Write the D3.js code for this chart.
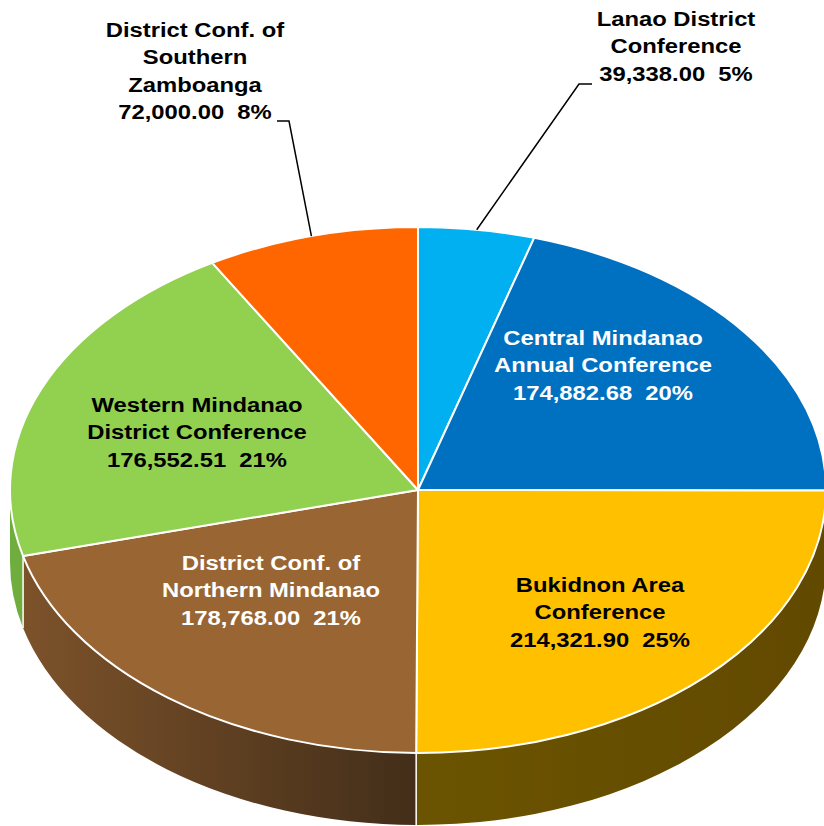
<!DOCTYPE html>
<html>
<head>
<meta charset="utf-8">
<script src="https://cdn.jsdelivr.net/npm/d3@7"></script>
<style>
  html, body { margin: 0; padding: 0; background: #fff; }
  svg { display: block; }
  text { font-family: "Liberation Sans", Arial, sans-serif; font-weight: bold; white-space: pre; }
</style>
</head>
<body>
<svg id="chart" width="824" height="826"></svg>
<script>
// ---- data ----
const categories = [
  "Lanao District Conference",
  "Central Mindanao Annual Conference",
  "Bukidnon Area Conference",
  "District Conf. of Northern Mindanao",
  "Western Mindanao District Conference",
  "District Conf. of Southern Zamboanga"
];
const values = [39338.00, 174882.68, 214321.90, 178768.00, 176552.51, 72000.00];
const labelLines = [
  ["Lanao District", "Conference"],
  ["Central Mindanao", "Annual Conference"],
  ["Bukidnon Area", "Conference"],
  ["District Conf. of", "Northern Mindanao"],
  ["Western Mindanao", "District Conference"],
  ["District Conf. of", "Southern", "Zamboanga"]
];

// ---- styles / layout ----
const topColors  = ["#00B0F0", "#0070C0", "#FFC000", "#996633", "#92D050", "#FF6600"];
const sideColors = [["#0098d0","#0098d0"], ["#005a9c","#005a9c"], ["#6b5400","#624900"],
                    ["#7c522a","#432e19"], ["#6fae3e","#6fae3e"], ["#cc5200","#cc5200"]];
const textColors = ["#000", "#fff", "#000", "#fff", "#000", "#000"];
// label block: centre x, first baseline y
const labelPos = [[676, 26], [603, 345], [600, 592], [271, 570], [197, 412], [195, 37]];
const outside  = [true, false, false, false, false, true];
const leaderElbow = [[579, 84, 592], null, null, null, null, [289, 121, 277]];

const cx = 418, cy = 490, rx = 408, ry = 263, depth = 72;
const lineH = 27.5, fontSize = 20, xStretch = 1.19;

const svg = d3.select("#chart");
const defs = svg.append("defs");

const pie = d3.pie().sort(null).value(d => d);
const arcs = pie(values);
const total = d3.sum(values);
const fmt = d3.format(",.2f");

const px = a => cx + rx * Math.sin(a);
const py = a => cy - ry * Math.cos(a);

function topPath(d) {
  const a0 = d.startAngle, a1 = d.endAngle;
  const large = (a1 - a0) > Math.PI ? 1 : 0;
  return `M${cx},${cy}L${px(a0)},${py(a0)}A${rx},${ry} 0 ${large} 1 ${px(a1)},${py(a1)}Z`;
}

function sidePath(a0, a1) {
  const large = (a1 - a0) > Math.PI ? 1 : 0;
  return `M${px(a0)},${py(a0)}A${rx},${ry} 0 ${large} 1 ${px(a1)},${py(a1)}` +
         `L${px(a1)},${py(a1) + depth}A${rx},${ry} 0 ${large} 0 ${px(a0)},${py(a0) + depth}Z`;
}

// ---- side walls (front half: PI/2 .. 3PI/2) ----
const gSide = svg.append("g");
arcs.forEach((d, i) => {
  const a0 = Math.max(d.startAngle, Math.PI / 2);
  const a1 = Math.min(d.endAngle, 3 * Math.PI / 2);
  if (a1 <= a0) return;
  const x0 = Math.min(px(a0), px(a1)), x1 = Math.max(px(a0), px(a1));
  const gid = "sg" + i;
  const lg = defs.append("linearGradient").attr("id", gid)
    .attr("gradientUnits", "userSpaceOnUse")
    .attr("x1", x0).attr("x2", x1).attr("y1", 0).attr("y2", 0);
  lg.append("stop").attr("offset", 0).attr("stop-color", sideColors[i][0]);
  lg.append("stop").attr("offset", 1).attr("stop-color", sideColors[i][1]);
  gSide.append("path").attr("d", sidePath(a0, a1)).attr("fill", `url(#${gid})`);
});
// side separators
arcs.forEach(d => {
  const a = d.startAngle;
  if (a > Math.PI / 2 && a < 3 * Math.PI / 2) {
    gSide.append("line")
      .attr("x1", px(a)).attr("y1", py(a))
      .attr("x2", px(a)).attr("y2", py(a) + depth)
      .attr("stroke", "#fff").attr("stroke-width", 1.5);
  }
});

// ---- top faces ----
svg.append("g").selectAll("path").data(arcs).join("path")
  .attr("d", topPath)
  .attr("fill", (d, i) => topColors[i])
  .attr("stroke", "#fff")
  .attr("stroke-width", 2)
  .attr("stroke-linejoin", "round");

// ---- leader lines ----
arcs.forEach((d, i) => {
  if (!outside[i]) return;
  const m = (d.startAngle + d.endAngle) / 2;
  const e = leaderElbow[i];
  svg.append("polyline")
    .attr("points", `${px(m)},${py(m)} ${e[0]},${e[1]} ${e[2]},${e[1]}`)
    .attr("fill", "none").attr("stroke", "#000").attr("stroke-width", 1.5);
});

// ---- labels ----
arcs.forEach((d, i) => {
  const pct = Math.round(d.data / total * 100);
  const lines = labelLines[i].concat([`${fmt(d.data)}  ${pct}%`]);
  const [lx, ly] = labelPos[i];
  const g = svg.append("g").attr("transform", `translate(${lx},${ly}) scale(${xStretch},1)`);
  lines.forEach((t, k) => {
    g.append("text")
      .attr("x", 0).attr("y", k * lineH)
      .attr("text-anchor", "middle")
      .attr("font-size", fontSize)
      .attr("fill", textColors[i])
      .text(t);
  });
});
</script>
</body>
</html>
